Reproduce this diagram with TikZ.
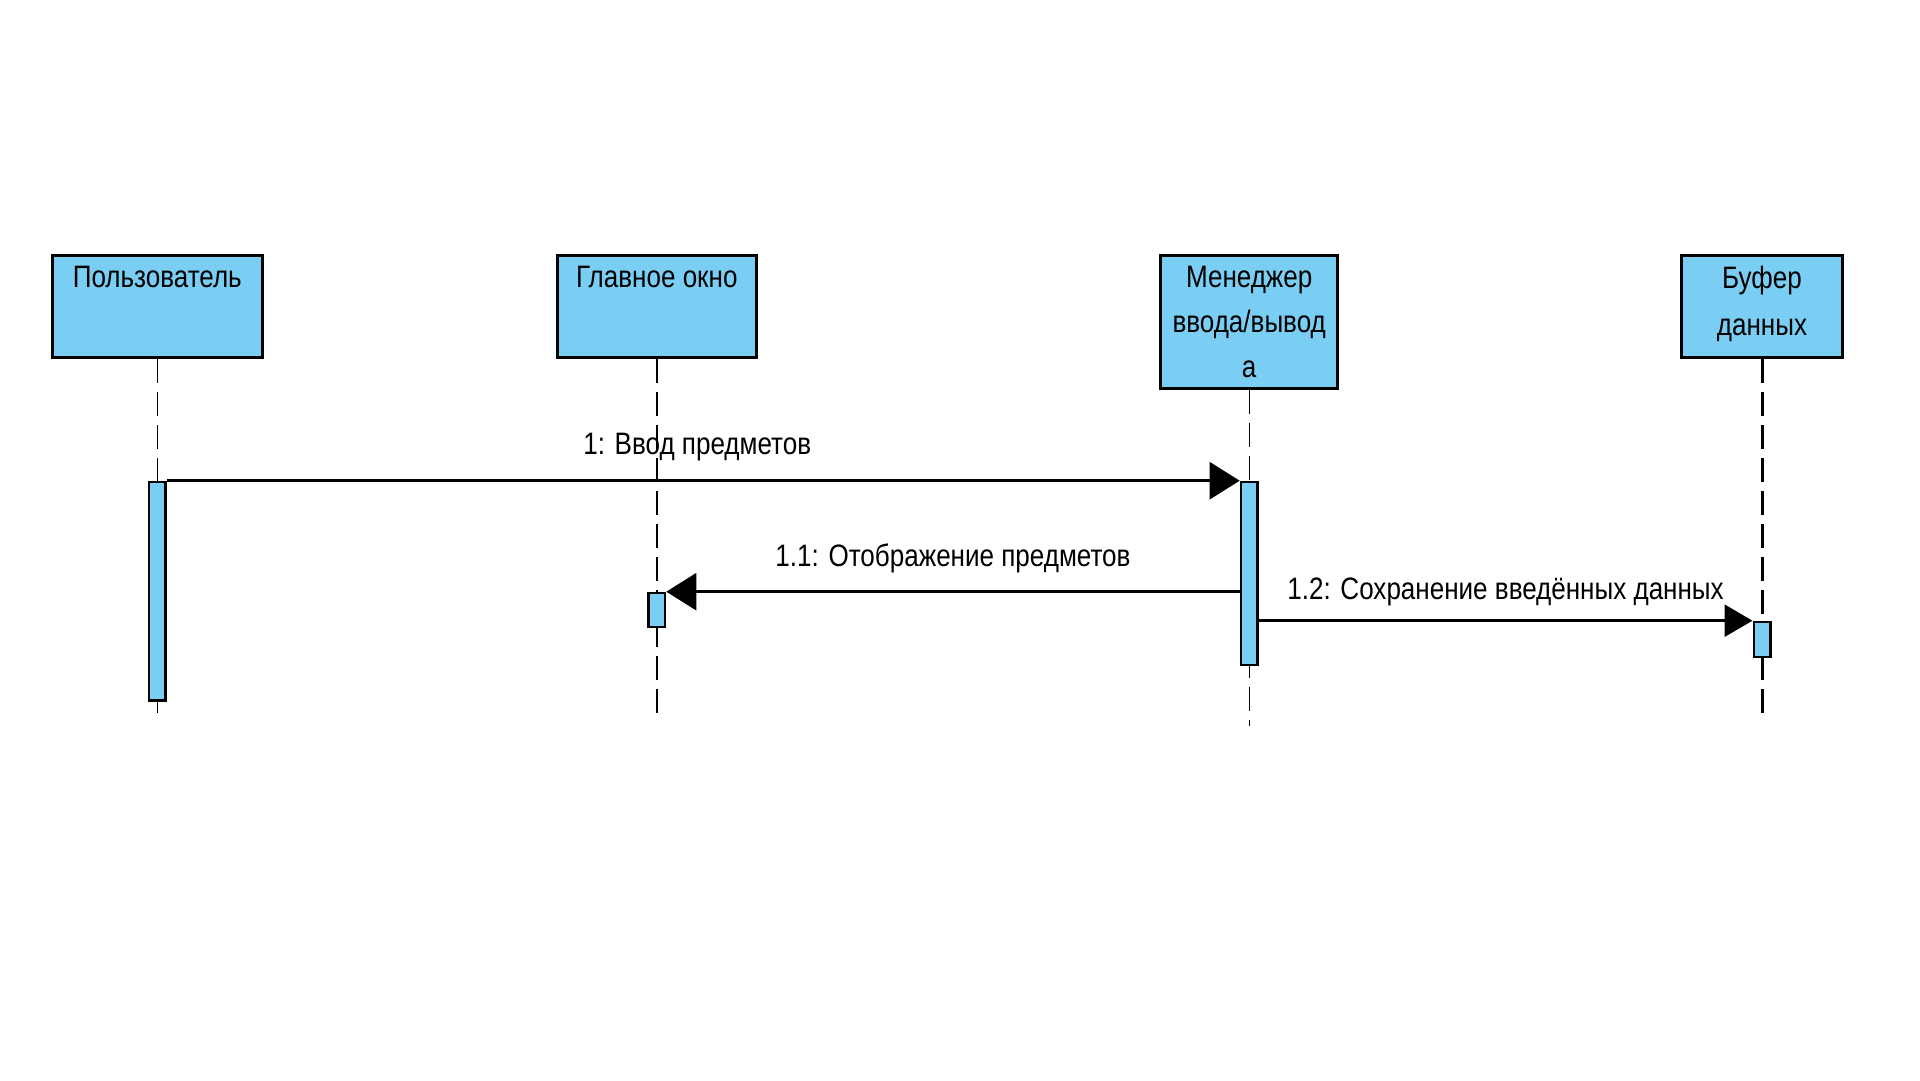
\documentclass[tikz,border=0pt]{standalone}
\usepackage{fontspec}
\setmainfont{Liberation Sans}
\newfontfamily\narrowsans[FakeStretch=0.84]{Liberation Sans}
\usetikzlibrary{arrows.meta}
\definecolor{umlblue}{RGB}{122,206,244}
\begin{document}
\begin{tikzpicture}[x=1pt,y=-1pt,
  actorbox/.style={draw=black, line width=2.9pt, fill=umlblue, inner sep=0pt},
  actortext/.style={anchor=north, align=center, inner sep=0pt,
    font=\narrowsans\fontsize{31}{46}\selectfont},
  lifeline/.style={draw=black, line width=1pt, dash pattern=on 24pt off 9pt},
  bar/.style={draw=black, line width=2.5pt, fill=umlblue, inner sep=0pt,
    minimum width=16.5pt},
  msg/.style={draw=black, line width=2.7pt,
    -{Triangle[length=30pt,width=37pt]}},
  msglabel/.style={anchor=base, inner sep=0pt,
    font=\narrowsans\fontsize{31}{46}\selectfont}
]
\useasboundingbox (0,0) rectangle (1920,1080);
\fill[white] (0,0) rectangle (1920,1080);

% actor boxes
\node[actorbox, minimum width=210.1pt, minimum height=102.1pt] (u) at (157.3,306.5) {};
\node[actorbox, minimum width=199.4pt, minimum height=102.1pt] (g) at (656.8,306.5) {};
\node[actorbox, minimum width=176.7pt, minimum height=133.1pt] (m) at (1249.2,322) {};
\node[actorbox, minimum width=161.4pt, minimum height=102.1pt] (b) at (1762,306.5) {};

\node[actortext] (ut) at ([yshift=-11.7pt]u.north) {Пользователь};
\node[actortext] (gt) at ([yshift=-11.7pt]g.north) {Главное окно};
\node[actortext, font=\narrowsans\fontsize{31}{45}\selectfont] (mt) at ([yshift=-11.7pt]m.north) {Менеджер\\ввода/вывод\\а};
\node[actortext, font=\narrowsans\fontsize{31}{47}\selectfont] (bt) at ([yshift=-11.7pt]b.north) {Буфер\\данных};

% lifeline ends
\coordinate (uend) at (157.3,716.7);
\coordinate (gend) at (656.8,716.7);
\coordinate (mend) at (1249.2,726);
\coordinate (bend) at (1762,716.7);

\draw[lifeline] (u.south) -- (uend);
\draw[lifeline, line width=1.8pt] (g.south) -- (gend);
\draw[lifeline] (m.south) -- (mend);
\draw[lifeline, line width=3pt] (b.south) -- (bend);

% activation bars
\node[bar, minimum height=218.5pt] (ubar) at (157.3,591.2) {};
\node[bar, minimum height=34.1pt] (gbar) at (656.8,610) {};
\node[bar, minimum height=182.8pt] (mbar) at (1249.2,573.4) {};
\node[bar, minimum height=35.1pt] (bbar) at (1762,639.5) {};

% messages
\draw[msg] (ubar.north east) -- (ubar.north east -| mbar.west)
  node[msglabel, midway, yshift=26pt, xshift=-6pt] (l1) {1: Ввод предметов};
\draw[msg] (mbar.west |- gbar.north) -- (gbar.north east)
  node[msglabel, midway, yshift=25.5pt] (l11) {1.1: Отображение предметов};
\draw[msg, -{Triangle[length=28pt,width=32pt]}] (mbar.east |- bbar.north) -- (bbar.north west)
  node[msglabel, midway, yshift=21pt] (l12) {1.2: Сохранение введённых данных};
\end{tikzpicture}
\end{document}
